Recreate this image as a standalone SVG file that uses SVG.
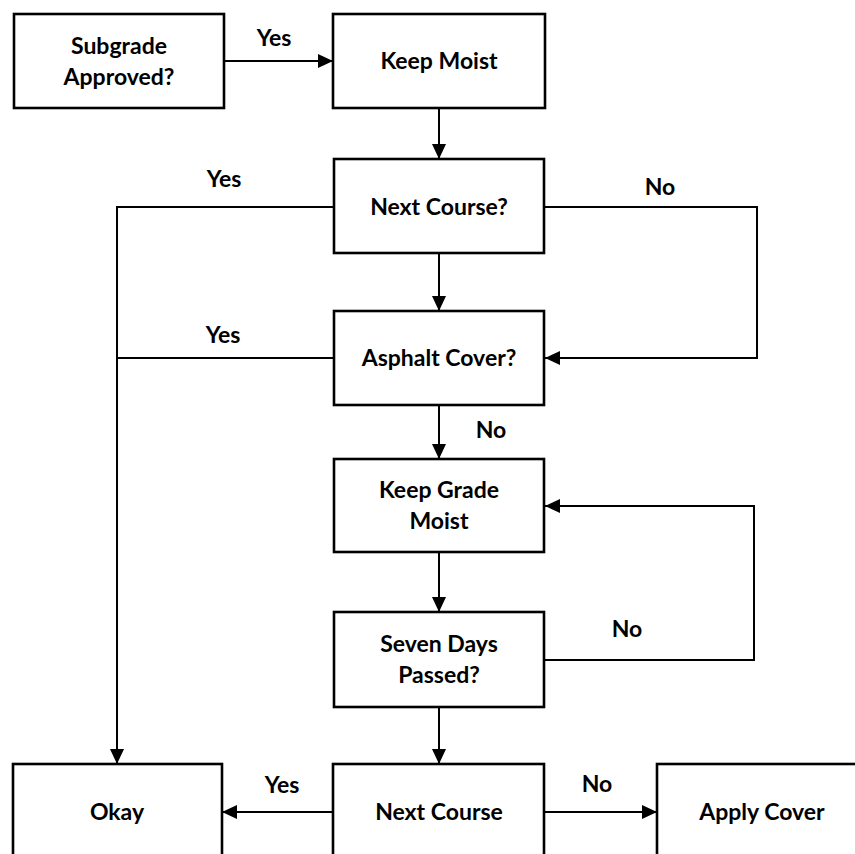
<svg xmlns="http://www.w3.org/2000/svg" width="855" height="854" viewBox="0 0 855 854">
<defs>
<style>
.box{fill:#fff;stroke:#000;stroke-width:2.6}
.t{font-family:Lato,"Liberation Sans",Arial,sans-serif;font-weight:bold;font-size:23px;fill:#000;text-anchor:middle}
.c{fill:none;stroke:#000;stroke-width:2}
</style>
<marker id="ah" markerUnits="userSpaceOnUse" markerWidth="15" markerHeight="14" refX="15" refY="7" orient="auto">
<path d="M0,0 L15,7 L0,14 z" fill="#000"/>
</marker>
</defs>
<rect width="855" height="854" fill="#fff"/>
<g id="connectors">
<path class="c" d="M224,61 H333" marker-end="url(#ah)"/>
<path class="c" d="M439,108 V159" marker-end="url(#ah)"/>
<path class="c" d="M439,253 V311" marker-end="url(#ah)"/>
<path class="c" d="M544,207 H757 V358 H545" marker-end="url(#ah)"/>
<path class="c" d="M334,207 H117 V764" marker-end="url(#ah)"/>
<path class="c" d="M334,358 H117"/>
<path class="c" d="M439,405 V459" marker-end="url(#ah)"/>
<path class="c" d="M439,552 V612" marker-end="url(#ah)"/>
<path class="c" d="M544,660 H754 V506 H545" marker-end="url(#ah)"/>
<path class="c" d="M439,707 V764" marker-end="url(#ah)"/>
<path class="c" d="M333,812 H222" marker-end="url(#ah)"/>
<path class="c" d="M544,812 H657" marker-end="url(#ah)"/>
<text class="t" x="274" y="46">Yes</text>
<text class="t" x="660" y="195">No</text>
<text class="t" x="224" y="187">Yes</text>
<text class="t" x="223" y="343">Yes</text>
<text class="t" x="491" y="438">No</text>
<text class="t" x="627" y="637">No</text>
<text class="t" x="282" y="793">Yes</text>
<text class="t" x="597" y="792">No</text>
</g>
<g id="subgrade">
<rect class="box" x="14" y="14" width="210" height="94"/>
<text class="t" x="119" y="54">Subgrade</text>
<text class="t" x="119" y="85">Approved?</text>
</g>
<g id="keep-moist">
<rect class="box" x="333" y="14" width="212" height="94"/>
<text class="t" x="439" y="69">Keep Moist</text>
</g>
<g id="next-course-q">
<rect class="box" x="334" y="159" width="210" height="94"/>
<text class="t" x="439" y="215">Next Course?</text>
</g>
<g id="asphalt-cover">
<rect class="box" x="334" y="311" width="210" height="94"/>
<text class="t" x="439" y="366">Asphalt Cover?</text>
</g>
<g id="keep-grade-moist">
<rect class="box" x="334" y="459" width="210" height="93"/>
<text class="t" x="439" y="498">Keep Grade</text>
<text class="t" x="439" y="529">Moist</text>
</g>
<g id="seven-days">
<rect class="box" x="334" y="612" width="210" height="95"/>
<text class="t" x="439" y="652">Seven Days</text>
<text class="t" x="439" y="683">Passed?</text>
</g>
<g id="okay">
<rect class="box" x="13" y="764" width="209" height="95"/>
<text class="t" x="117" y="820">Okay</text>
</g>
<g id="next-course">
<rect class="box" x="333" y="764" width="211" height="95"/>
<text class="t" x="439" y="820">Next Course</text>
</g>
<g id="apply-cover">
<rect class="box" x="657" y="764" width="212" height="95"/>
<text class="t" x="762" y="820">Apply Cover</text>
</g>
</svg>
